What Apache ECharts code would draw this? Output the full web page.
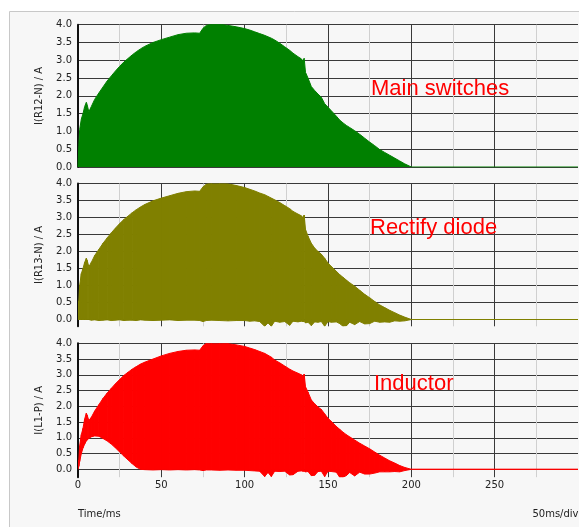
<!DOCTYPE html>
<html><head><meta charset="utf-8">
<script src="https://cdn.jsdelivr.net/npm/echarts@6.0.0/dist/echarts.min.js"></script>
<style>html,body{margin:0;padding:0;background:#fff;}#c{width:579px;height:527px;}</style>
</head><body><div id="c"></div>
<script>
// ---- data (time in ms, current in A) ----
const times = [0,0.5,1,2,3,4,5,5.5,6.5,8,
  10,12.5,15,17.5,20,22.5,25,27.5,30,32.5,
  35,37.5,40,45,50,55,60,65,70,73,
  75,77,80,85,90,95,100,103,106,109,
  112,114,116,118,121,124,127,129,132,134,
  135,135.7,136.5,138,140,142,144,146,148,150,
  152,155,157,159,161,163,166,169,172,175,
  178,181,184,187,190,193,196,200,300];

const switchUpper = [0,0.6,1.05,1.35,1.5,1.7,1.82,1.75,1.55,1.7,
  1.9,2.08,2.25,2.42,2.56,2.7,2.83,2.95,3.05,3.15,
  3.24,3.32,3.39,3.5,3.58,3.65,3.72,3.76,3.77,3.76,
  3.9,3.98,4.02,4.02,3.98,3.94,3.89,3.85,3.8,3.75,
  3.7,3.66,3.62,3.57,3.48,3.38,3.28,3.2,3.1,3.04,
  2.98,3.06,2.66,2.5,2.26,2.15,2.05,1.96,1.78,1.68,
  1.58,1.43,1.32,1.24,1.17,1.11,1.02,0.92,0.81,0.7,
  0.6,0.49,0.41,0.33,0.25,0.17,0.09,0,0];

const diodeUpper = [0,0.55,1.0,1.35,1.5,1.68,1.8,1.74,1.55,1.68,
  1.88,2.06,2.24,2.4,2.55,2.69,2.82,2.94,3.04,3.14,
  3.23,3.31,3.38,3.49,3.57,3.64,3.71,3.76,3.78,3.77,
  3.9,3.98,4.02,4.02,3.99,3.94,3.88,3.83,3.78,3.72,
  3.67,3.62,3.57,3.52,3.44,3.35,3.26,3.18,3.1,3.05,
  3.0,3.07,2.65,2.45,2.24,2.1,2.0,1.92,1.8,1.66,
  1.56,1.42,1.32,1.24,1.16,1.08,0.98,0.86,0.74,0.64,
  0.53,0.43,0.35,0.27,0.2,0.13,0.07,0,0];

const diodeLower = [0,0,0,0,0,0,0,0,0,-0.02,
  -0.01,-0.03,-0.02,-0.01,-0.03,-0.02,-0.01,-0.03,-0.02,-0.02,
  -0.03,-0.01,-0.02,-0.03,-0.02,-0.01,-0.03,-0.02,-0.02,-0.03,
  -0.06,-0.03,-0.02,-0.03,-0.04,-0.03,-0.03,-0.05,-0.04,-0.06,
  -0.2,-0.1,-0.2,-0.05,-0.08,-0.06,-0.17,-0.05,-0.07,-0.05,
  -0.06,-0.06,-0.1,-0.08,-0.18,-0.07,-0.08,-0.06,-0.2,-0.06,
  -0.08,-0.07,-0.12,-0.2,-0.19,-0.08,-0.15,-0.06,-0.13,-0.12,
  -0.05,-0.08,-0.07,-0.08,-0.04,-0.05,-0.04,0,0];

const inductorUpper = [0,0.3,0.75,1.1,1.3,1.6,1.78,1.72,1.55,1.65,
  1.85,2.05,2.25,2.42,2.57,2.72,2.85,2.98,3.08,3.18,
  3.26,3.34,3.4,3.5,3.6,3.68,3.74,3.78,3.79,3.78,
  3.92,4.0,4.03,4.03,3.99,3.95,3.9,3.85,3.8,3.74,
  3.68,3.62,3.56,3.47,3.38,3.28,3.18,3.12,3.05,3.0,
  2.95,3.02,2.62,2.45,2.2,2.08,1.98,1.9,1.76,1.62,
  1.52,1.36,1.27,1.18,1.1,1.03,0.93,0.83,0.74,0.65,
  0.55,0.45,0.36,0.27,0.2,0.12,0.06,0,0];

const inductorLower = [0,0.1,0.25,0.5,0.68,0.8,0.9,0.93,0.98,1.03,
  1.06,1.05,0.98,0.9,0.8,0.68,0.55,0.42,0.3,0.18,
  0.07,0,-0.01,-0.02,-0.01,-0.02,-0.01,-0.02,-0.01,-0.02,
  -0.04,-0.02,-0.02,-0.03,-0.02,-0.03,-0.03,-0.04,-0.05,-0.06,
  -0.23,-0.1,-0.23,-0.06,-0.07,-0.06,-0.18,-0.17,-0.06,-0.05,
  -0.06,-0.06,-0.08,-0.07,-0.2,-0.19,-0.07,-0.06,-0.23,-0.06,
  -0.07,-0.09,-0.25,-0.25,-0.2,-0.1,-0.21,-0.09,-0.15,-0.15,
  -0.12,-0.08,-0.08,-0.08,-0.07,-0.08,-0.04,0,0];

const axisNames = ['I(R12-N) / A', 'I(R13-N) / A', 'I(L1-P) / A'];
const annotations = ['Main switches', 'Rectify diode', 'Inductor'];
const xAxisTitle = 'Time/ms';
const xScaleNote = '50ms/div';

// ---- styling / layout ----
const FONT = 'DejaVu Sans';
const DARK = '#3a3a3a', LIGHT = '#d0d0d0', TXT = '#222';
const C_SWITCH = '#008000', C_DIODE = '#808000', C_IND = '#ff0000';

const grids = [
  {left: 78, width: 500, top: 24.7, height: 142.3},
  {left: 78, width: 500, top: 183.5, height: 142.8},
  {left: 78, width: 500, top: 343.3, height: 133.9}
];

function isMajor(v) { return v > -1e-6 && Math.abs(v * 2 - Math.round(v * 2)) < 1e-6; }

function xAxisFor(idx, showLabels) {
  return {
    type: 'value', gridIndex: idx, min: 0, max: 300, interval: 50,
    axisLine: {show: false, onZero: false}, axisTick: {show: false},
    axisLabel: {show: showLabels, margin: 3, color: TXT, fontFamily: FONT, fontSize: 10, showMaxLabel: false},
    splitLine: {show: true, showMaxLine: false, lineStyle: {color: DARK, width: 1}},
    minorTick: {show: false, splitNumber: 2},
    minorSplitLine: {show: true, lineStyle: {color: LIGHT, width: 1}}
  };
}
function yAxisFor(idx, min, interval, lineColors) {
  return {
    type: 'value', gridIndex: idx, min: min, max: 4, interval: interval,
    name: axisNames[idx], nameLocation: 'middle', nameGap: 34, nameRotate: 90,
    nameTextStyle: {fontFamily: FONT, fontSize: 10, color: TXT},
    axisLine: {show: true, onZero: false, lineStyle: {color: '#111', width: 2}},
    axisTick: {show: false},
    axisLabel: {margin: 6, color: TXT, fontFamily: FONT, fontSize: 10,
      formatter: v => isMajor(v) ? v.toFixed(1) : ''},
    splitLine: {show: true, showMinLine: min === 0, showMaxLine: true,
      lineStyle: {color: lineColors, width: 1}}
  };
}

function bandSeries(idx, upper, lower, color) {
  const segs = [];
  for (let i = 0; i < times.length - 1; i++) {
    segs.push([times[i], times[i + 1], upper[i], upper[i + 1], lower[i], lower[i + 1]]);
  }
  return {
    type: 'custom', xAxisIndex: idx, yAxisIndex: idx, clip: true, silent: true, z: 3,
    encode: {x: [0, 1], y: [2, 3, 4, 5]},
    data: segs,
    renderItem: function (params, api) {
      const t0 = api.value(0), t1 = api.value(1);
      const pts = [api.coord([t0, api.value(2)]), api.coord([t1, api.value(3)]),
                   api.coord([t1, api.value(5)]), api.coord([t0, api.value(4)])];
      return {type: 'polygon', shape: {points: pts},
        style: {fill: color, stroke: color, lineWidth: 1}};
    }
  };
}

const annotationPos = [[371, 89], [370, 228], [374, 383.5]];

const option = {
  animation: false,
  backgroundColor: 'transparent',
  grid: grids.map(g => Object.assign({containLabel: false, outerBoundsMode: 'none'}, g)),
  xAxis: [xAxisFor(0, false), xAxisFor(1, false), xAxisFor(2, true)],
  yAxis: [
    yAxisFor(0, 0, 0.5, [DARK]),
    yAxisFor(1, -0.2, 0.1, ['transparent', DARK, 'transparent', 'transparent', 'transparent']),
    yAxisFor(2, -0.25, 0.25, [DARK, 'transparent'])
  ],
  series: [
    {type: 'line', xAxisIndex: 0, yAxisIndex: 0, z: 3, silent: true,
     data: times.map((t, i) => [t, switchUpper[i]]),
     symbol: 'none', showSymbol: false,
     lineStyle: {color: C_SWITCH, width: 1},
     areaStyle: {color: C_SWITCH, opacity: 1}},
    bandSeries(1, diodeUpper, diodeLower, C_DIODE),
    bandSeries(2, inductorUpper, inductorLower, C_IND)
  ],
  graphic: [
    {type: 'rect', z: -10, silent: true,
     shape: {x: 9.5, y: 11.5, width: 600, height: 600},
     style: {fill: '#f7f7f7', stroke: '#c8c8c8', lineWidth: 1}},
    ...annotations.map((txt, i) => ({
      type: 'text', z: 10, silent: true, x: annotationPos[i][0], y: annotationPos[i][1],
      style: {text: txt, fill: '#ff0000', font: '22px "Liberation Sans"', align: 'left', verticalAlign: 'middle'}
    })),
    {type: 'text', z: 10, silent: true, x: 78, y: 514.7,
     style: {text: xAxisTitle, fill: TXT, font: '10px "DejaVu Sans"', align: 'left', verticalAlign: 'middle'}},
    {type: 'text', z: 10, silent: true, x: 578.5, y: 514.7,
     style: {text: xScaleNote, fill: TXT, font: '10px "DejaVu Sans"', align: 'right', verticalAlign: 'middle'}}
  ]
};

const chart = echarts.init(document.getElementById('c'), null, {renderer: 'canvas'});
chart.setOption(option);
</script>
</body></html>
